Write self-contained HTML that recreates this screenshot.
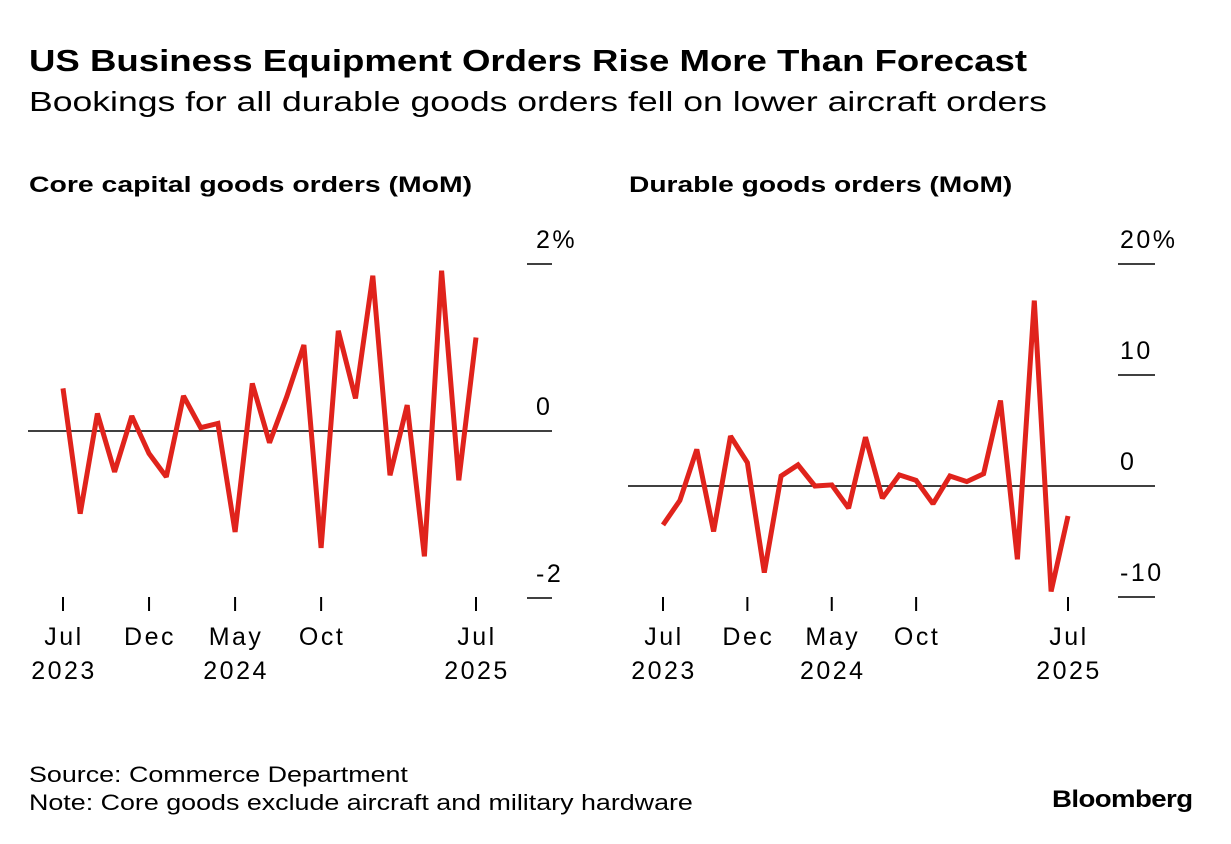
<!DOCTYPE html>
<html><head><meta charset="utf-8"><style>
body{margin:0;background:#fff;font-family:"Liberation Sans",sans-serif;color:#000}
#wrap{position:relative;width:1231px;height:844px;overflow:hidden}
.t{position:absolute;white-space:nowrap;transform-origin:left top}
</style></head><body>
<div id="wrap">
<div class="t" style="left:29px;top:43px;font-size:31px;font-weight:bold;transform:scaleX(1.18)">US Business Equipment Orders Rise More Than Forecast</div>
<div class="t" style="left:29px;top:86px;font-size:28px;transform:scaleX(1.27)">Bookings for all durable goods orders fell on lower aircraft orders</div>
<div class="t" style="left:29px;top:172px;font-size:22px;font-weight:bold;transform:scaleX(1.29)">Core capital goods orders (MoM)</div>
<div class="t" style="left:629px;top:172px;font-size:22px;font-weight:bold;transform:scaleX(1.28)">Durable goods orders (MoM)</div>
<svg id="svg" width="1231" height="844" style="position:absolute;left:0;top:0"></svg>
<div class="t" style="left:29px;top:762px;font-size:22px;transform:scaleX(1.22)">Source: Commerce Department</div>
<div class="t" style="left:29px;top:790px;font-size:22px;transform:scaleX(1.22)">Note: Core goods exclude aircraft and military hardware</div>
<div class="t" style="left:1052px;top:786px;font-size:24px;font-weight:bold;letter-spacing:-0.5px;transform:scaleX(1.15)">Bloomberg</div>
</div>
<script>
const coreValues=[0.51,-0.99,0.21,-0.49,0.18,-0.27,-0.55,0.42,0.04,0.09,-1.21,0.57,-0.14,0.41,1.03,-1.40,1.20,0.39,1.86,-0.53,0.31,-1.50,1.92,-0.59,1.12];
const durableValues=[-3.5,-1.3,3.3,-4.1,4.5,2.1,-7.8,0.9,1.9,0.0,0.1,-2.0,4.4,-1.1,1.0,0.5,-1.6,0.9,0.4,1.1,7.7,-6.6,16.7,-9.5,-2.7];
const coreTicks=[2,0,-2];
const coreTickLabels=["2%","0","-2"];
const durableTicks=[20,10,0,-10];
const durableTickLabels=["20%","10","0","-10"];
const xTickIdx=[0,5,10,15,24];
const xTickLabels=["Jul","Dec","May","Oct","Jul"];
const xYearLabels=["2023","","2024","","2025"];
const NS="http://www.w3.org/2000/svg";
const svg=document.getElementById('svg');
function mk(tag,attrs,name){const e=document.createElementNS(NS,tag);for(const k in attrs)e.setAttribute(k,attrs[k]);


svg.appendChild(e);return e;}
const FONT='Liberation Sans, sans-serif';
function panel(p){
 const xs=i=>p.x0+(p.x1-p.x0)*i/24;
 const ys=v=>p.yZero-(v)*p.pxPer;
 p.ticks.forEach((t,k)=>{
  const y=ys(t);
  if(t===0){mk('line',{x1:p.lineL,x2:p.tickR,y1:y,y2:y,stroke:'#000','stroke-width':1.5},p.id+'-zero-line');}
  else{mk('line',{x1:p.tickL,x2:p.tickR,y1:y,y2:y,stroke:'#000','stroke-width':1.5},p.id+'-y-gridtick');}
  const tx=mk('text',{x:p.labelX,y:y-16,'font-size':25,'letter-spacing':2.5,'font-family':FONT},p.id+'-y-tick-label');tx.textContent=p.labels[k];
 });
 xTickIdx.forEach((i,k)=>{
  const x=xs(i);
  mk('line',{x1:x,x2:x,y1:597,y2:611,stroke:'#000','stroke-width':2},p.id+'-x-tick');
  const a=mk('text',{x:x+1,y:645,'font-size':25,'letter-spacing':2.5,'text-anchor':'middle','font-family':FONT},p.id+'-x-tick-label');a.textContent=xTickLabels[k];
  if(xYearLabels[k]){const b=mk('text',{x:x+1,y:679,'font-size':25,'letter-spacing':2.5,'text-anchor':'middle','font-family':FONT},p.id+'-x-year-label');b.textContent=xYearLabels[k];}
 });
 const d=p.values.map((v,i)=>(i?'L':'M')+xs(i).toFixed(1)+','+ys(v).toFixed(1)).join(' ');
 mk('path',{d:d,fill:'none',stroke:'#e0231c','stroke-width':5,'stroke-linejoin':'miter','stroke-miterlimit':1.5},p.id+'-line');
}
panel({id:'core',values:coreValues,ticks:coreTicks,labels:coreTickLabels,x0:63,x1:476,yZero:431,pxPer:83.5,lineL:28,tickL:527,tickR:552,labelX:536});
panel({id:'durable',values:durableValues,ticks:durableTicks,labels:durableTickLabels,x0:663,x1:1068,yZero:486,pxPer:11.1,lineL:628,tickL:1118,tickR:1155,labelX:1120});
</script>
</body></html>
